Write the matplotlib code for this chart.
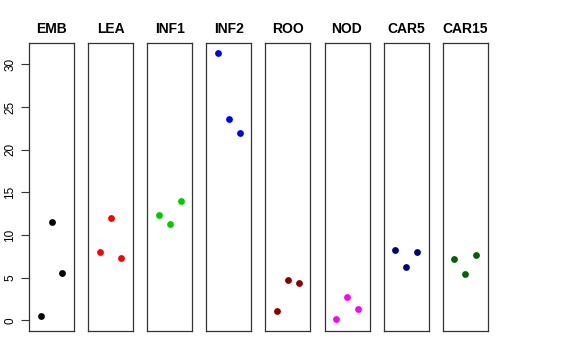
import numpy as np
import matplotlib.pyplot as plt

plt.rcParams['font.family'] = ['Liberation Sans', 'DejaVu Sans']

tissues = ["EMB", "LEA", "INF1", "INF2", "ROO", "NOD", "CAR5", "CAR15"]
colors = ["black", "red", "#00CD00", "blue", "#8B0000", "magenta", "#000080", "#006400"]
values = [
    [0.5, 11.5, 5.6],
    [8.0, 12.0, 7.3],
    [12.3, 11.3, 14.0],
    [31.3, 23.6, 22.0],
    [1.1, 4.7, 4.4],
    [0.2, 2.7, 1.3],
    [8.3, 6.3, 8.0],
    [7.2, 5.4, 7.6],
]
reps = [1, 2, 3]

fig = plt.figure(figsize=(5.76, 3.6), dpi=100)
W, H = 576, 360
left0, step, pw = 29, 59.1, 45
top, bottom = 43, 331

for i, (name, col, vals) in enumerate(zip(tissues, colors, values)):
    x0 = left0 + i * step
    ax = fig.add_axes([x0 / W, 1 - bottom / H, pw / W, (bottom - top) / H])
    ax.scatter(reps, vals, s=24, color=col, linewidths=0, zorder=3)
    ax.set_xlim(-0.08, 4.08)
    ax.set_ylim(-1.25, 32.5)
    ax.set_xticks([])
    ax.set_title(name, fontsize=10, fontweight='bold', pad=7)
    for sp in ax.spines.values():
        sp.set_color('#333333')
        sp.set_linewidth(0.9)
    if i == 0:
        ax.set_yticks([0, 5, 10, 15, 20, 25, 30])
        ax.tick_params(axis='y', length=6, width=0.8, labelsize=8.5, pad=3, color='#333333')
        for lab in ax.get_yticklabels():
            lab.set_rotation(90)
            lab.set_va('center')
    else:
        ax.set_yticks([])

fig.savefig("out.png", dpi=100)
